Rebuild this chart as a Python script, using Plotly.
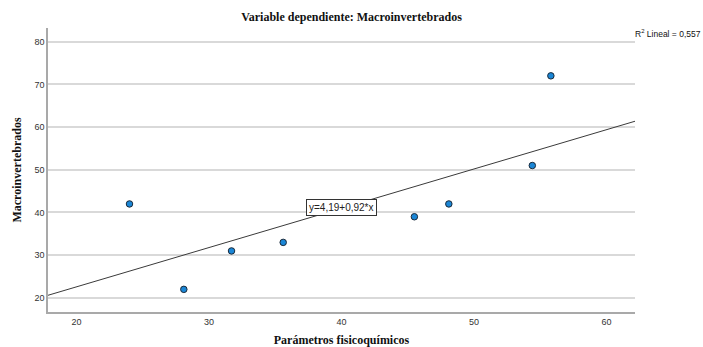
import plotly.graph_objects as go

# Observed values
parametros = [24.0, 28.1, 31.7, 35.6, 45.5, 48.1, 54.4, 55.8]
macroinvertebrados = [42, 22, 31, 33, 39, 42, 51, 72]

# Fitted linear model
intercepto = 4.19
pendiente = 0.92
r2 = 0.557

x_range = [17.85, 62.15]
y_range = [16.7, 83.2]

fit_x = x_range
fit_y = [intercepto + pendiente * v for v in fit_x]

W, H = 703, 347
M = dict(l=48, r=68, t=28, b=35)
plot_w = W - M["l"] - M["r"]

fig = go.Figure()

fig.add_trace(go.Scatter(
    x=fit_x, y=fit_y, mode="lines",
    line=dict(color="#3a3a3a", width=1),
    hoverinfo="skip", showlegend=False,
))

fig.add_trace(go.Scatter(
    x=parametros, y=macroinvertebrados, mode="markers",
    marker=dict(size=6.5, color="#1a86d6", line=dict(color="#1b2a3a", width=1)),
    showlegend=False,
))

fig.add_annotation(
    x=40, y=intercepto + pendiente * 40 + 0.2, xref="x", yref="y",
    text="y=4,19+0,92*x", showarrow=False,
    font=dict(family="Arial, Liberation Sans", size=10, color="#222"),
    bgcolor="white", bordercolor="#333", borderwidth=1, borderpad=2,
)

fig.add_annotation(
    x=(W - M["l"]) / plot_w, y=1.0, xref="paper", yref="paper",
    xanchor="right", yanchor="top", yshift=2,
    text="R<sup>2</sup> Lineal = " + f"{r2:.3f}".replace(".", ","),
    showarrow=False,
    font=dict(family="Arial, Liberation Sans", size=8.5, color="#111"),
)

fig.update_layout(
    width=W, height=H,
    margin=M,
    paper_bgcolor="white", plot_bgcolor="white",
    title=dict(
        text="<b>Variable dependiente: Macroinvertebrados</b>",
        x=0.5, xanchor="center", y=0.953, yanchor="middle",
        font=dict(family="Liberation Serif, Times New Roman, serif", size=12, color="#111"),
    ),
    xaxis=dict(
        range=x_range, tickvals=[20, 30, 40, 50, 60], automargin=False,
        showgrid=False, zeroline=False,
        showline=True, linecolor="#a9a9a9", linewidth=1.5,
        ticks="", tickfont=dict(family="Arial, Liberation Sans", size=9, color="#333"),
        title=dict(
            text="<b>Parámetros fisicoquímicos</b>", standoff=12,
            font=dict(family="Liberation Serif, Times New Roman, serif", size=12, color="#111"),
        ),
    ),
    yaxis=dict(
        range=y_range, tickvals=[20, 30, 40, 50, 60, 70, 80], automargin=False,
        showgrid=True, gridcolor="#d9d9d9", gridwidth=1.5, zeroline=False,
        showline=True, linecolor="#a9a9a9", linewidth=1.5,
        ticks="", tickfont=dict(family="Arial, Liberation Sans", size=9, color="#333"),
        title=dict(
            text="<b>Macroinvertebrados</b>", standoff=10,
            font=dict(family="Liberation Serif, Times New Roman, serif", size=12, color="#111"),
        ),
    ),
)

fig.write_html("out.html")
